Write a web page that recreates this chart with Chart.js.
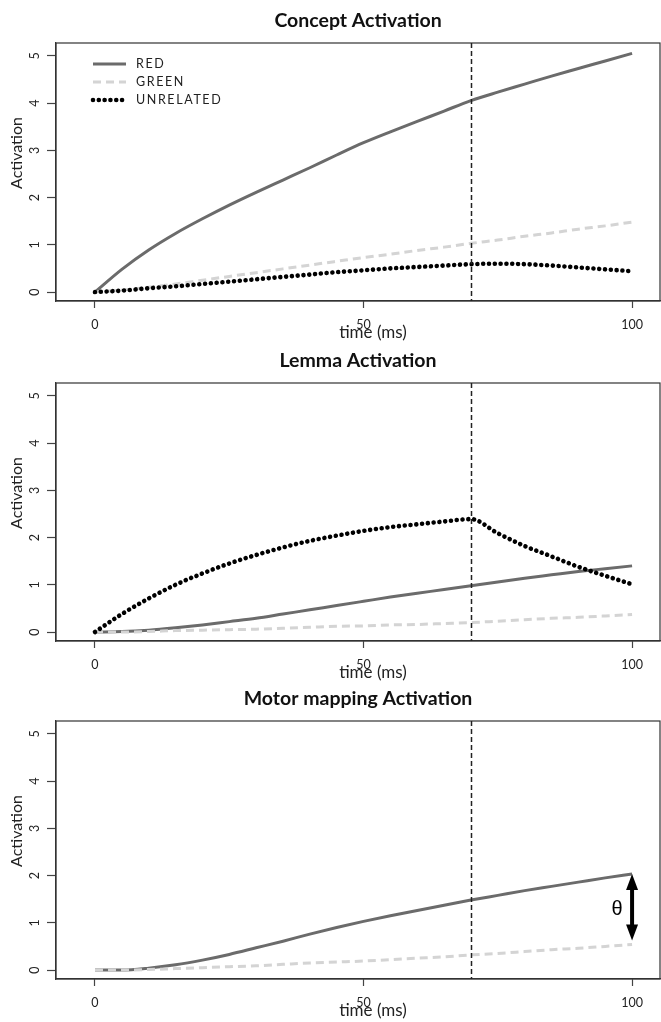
<!DOCTYPE html>
<html>
<head>
<meta charset="utf-8">
<script src="https://cdn.jsdelivr.net/npm/chart.js@4.4.1/dist/chart.umd.min.js"></script>
<style>
  html, body { margin: 0; padding: 0; background: #fff; }
  .panel { position: absolute; left: 0; width: 661px; height: 344px; }
  canvas { display: block; }
</style>
</head>
<body>
<div class="panel" style="top:0px"><canvas id="concept" width="661" height="344"></canvas></div>
<div class="panel" style="top:340px"><canvas id="lemma" width="661" height="344"></canvas></div>
<div class="panel" style="top:678px"><canvas id="motor" width="661" height="344"></canvas></div>
<script>
// time axis (ms) and tick labels
const timeMs = [0, 5, 10, 15, 20, 25, 30, 35, 40, 45, 50, 55, 60, 65, 70, 75, 80, 85, 90, 95, 100];
const xTicks = [0, 50, 100];
const yTicks = [0, 1, 2, 3, 4, 5];
const switchTime = 70;

// Concept Activation
const conceptRed = [0, 0.48, 0.89, 1.24, 1.55, 1.84, 2.11, 2.37, 2.63, 2.90, 3.16, 3.39, 3.61, 3.83, 4.05, 4.23, 4.40, 4.57, 4.73, 4.89, 5.05];
const conceptGreen = [0, 0.04, 0.10, 0.17, 0.25, 0.33, 0.41, 0.49, 0.57, 0.65, 0.73, 0.80, 0.88, 0.95, 1.03, 1.10, 1.18, 1.25, 1.33, 1.40, 1.48];
const conceptUnrelated = [0, 0.03, 0.08, 0.12, 0.17, 0.22, 0.27, 0.32, 0.37, 0.42, 0.46, 0.50, 0.53, 0.56, 0.59, 0.60, 0.59, 0.56, 0.52, 0.48, 0.44];

// Lemma Activation
const lemmaRed = [0, 0.01, 0.04, 0.09, 0.15, 0.22, 0.29, 0.38, 0.47, 0.56, 0.65, 0.74, 0.82, 0.90, 0.98, 1.06, 1.14, 1.21, 1.28, 1.34, 1.40];
const lemmaGreen = [0, 0.00, 0.01, 0.03, 0.04, 0.05, 0.06, 0.08, 0.10, 0.12, 0.13, 0.15, 0.16, 0.18, 0.20, 0.23, 0.26, 0.29, 0.31, 0.34, 0.37];
const lemmaUnrelated = [0, 0.38, 0.71, 1.00, 1.24, 1.45, 1.63, 1.79, 1.93, 2.04, 2.14, 2.22, 2.28, 2.34, 2.39, 2.09, 1.82, 1.60, 1.38, 1.19, 1.01];

// Motor mapping Activation
const motorRed = [0, 0.00, 0.04, 0.11, 0.21, 0.33, 0.47, 0.61, 0.76, 0.90, 1.03, 1.15, 1.26, 1.37, 1.48, 1.58, 1.68, 1.77, 1.86, 1.95, 2.03];
const motorGreen = [0, 0.00, 0.01, 0.03, 0.05, 0.07, 0.09, 0.12, 0.15, 0.17, 0.19, 0.22, 0.25, 0.28, 0.32, 0.35, 0.39, 0.43, 0.46, 0.50, 0.54];

const lineStyles = {
  RED: { borderColor: '#6b6b6b', borderWidth: 3, borderDash: [], borderCapStyle: 'butt', order: 3 },
  GREEN: { borderColor: '#d4d4d4', borderWidth: 3, borderDash: [8, 5], borderCapStyle: 'butt', order: 2 },
  UNRELATED: { borderColor: '#000000', borderWidth: 4.6, borderDash: [0.01, 5.8], borderCapStyle: 'round', order: 1 },
};

Chart.defaults.font.family = 'Lato, sans-serif';
Chart.defaults.color = '#222';

function toPoints(values) {
  return timeMs.map((t, i) => ({ x: t, y: values[i] }));
}

const decorPlugin = {
  id: 'decor',
  afterDatasetsDraw(chart, args, opts) {
    const { ctx, chartArea: a, scales: { x, y } } = chart;
    ctx.save();
    // box around the plot
    ctx.strokeStyle = '#333';
    ctx.lineWidth = 1.2;
    ctx.strokeRect(a.left, a.top, a.right - a.left, a.bottom - a.top);

    // dashed vertical marker
    const xs = Math.round(x.getPixelForValue(switchTime)) + 0.5;
    ctx.setLineDash([5, 3]);
    ctx.lineWidth = 1.5;
    ctx.strokeStyle = '#222';
    ctx.beginPath();
    ctx.moveTo(xs, a.top);
    ctx.lineTo(xs, a.bottom);
    ctx.stroke();
    ctx.setLineDash([]);

    // axis titles
    ctx.fillStyle = '#222';
    ctx.font = '16px Lato, sans-serif';
    ctx.textAlign = 'center';
    ctx.textBaseline = 'middle';
    ctx.save();
    ctx.translate(17, (a.top + a.bottom) / 2 - 19);
    ctx.rotate(-Math.PI / 2);
    ctx.fillText('Activation', 0, 0);
    ctx.restore();
    ctx.font = '17px Lato, sans-serif';
    ctx.fillText('time (ms)', (a.left + a.right) / 2 + 15, a.bottom + 32);

    if (opts.legend) {
      chart.data.datasets.forEach((ds, i) => {
        const ly = a.top + 21 + 18 * i;
        ctx.strokeStyle = ds.borderColor;
        ctx.lineWidth = ds.borderWidth;
        ctx.lineCap = ds.borderCapStyle;
        ctx.setLineDash(ds.borderDash);
        ctx.beginPath();
        ctx.moveTo(a.left + 37, ly);
        ctx.lineTo(a.left + 70, ly);
        ctx.stroke();
        ctx.setLineDash([]);
        ctx.lineCap = 'butt';
        ctx.fillStyle = '#222';
        ctx.font = '12.5px Lato, sans-serif';
        ctx.letterSpacing = '1.6px';
        ctx.textAlign = 'left';
        ctx.fillText(ds.label, a.left + 80, ly);
        ctx.letterSpacing = '0px';
      });
    }

    if (opts.arrow) {
      const xa = x.getPixelForValue(timeMs[timeMs.length - 1]);
      const yTop = y.getPixelForValue(motorRed[motorRed.length - 1]);
      const yBot = y.getPixelForValue(motorGreen[motorGreen.length - 1]) - 4;
      const head = 16, half = 6;
      ctx.fillStyle = '#000';
      ctx.strokeStyle = '#000';
      ctx.lineWidth = 4;
      ctx.beginPath();
      ctx.moveTo(xa, yTop + head - 2);
      ctx.lineTo(xa, yBot - head + 2);
      ctx.stroke();
      ctx.beginPath();
      ctx.moveTo(xa, yTop);
      ctx.lineTo(xa - half, yTop + head);
      ctx.lineTo(xa + half, yTop + head);
      ctx.closePath();
      ctx.fill();
      ctx.beginPath();
      ctx.moveTo(xa, yBot);
      ctx.lineTo(xa - half, yBot - head);
      ctx.lineTo(xa + half, yBot - head);
      ctx.closePath();
      ctx.fill();
      ctx.font = '20px "Liberation Sans", sans-serif';
      ctx.textAlign = 'center';
      ctx.textBaseline = 'middle';
      ctx.fillText('θ', xa - 15, (yTop + yBot) / 2 + 2);
    }
    ctx.restore();
  },
};

function makeChart(id, title, series, extra) {
  const context = document.getElementById(id).getContext('2d');
  return new Chart(context, {
    type: 'line',
    data: {
      datasets: series.map(([label, values]) => ({
        label: label,
        data: toPoints(values),
        ...lineStyles[label],
        pointRadius: 0,
        fill: false,
        cubicInterpolationMode: 'monotone',
      })),
    },
    options: {
      responsive: false,
      animation: false,
      devicePixelRatio: 1,
      layout: { padding: { top: 0, left: 0, right: 1, bottom: 3 } },
      scales: {
        x: {
          type: 'linear',
          min: -7.26,
          max: 105.2,
          afterBuildTicks: (scale) => { scale.ticks = xTicks.map((v) => ({ value: v })); },
          afterFit: (scale) => { scale.height = 40; },
          grid: { drawOnChartArea: false, tickLength: 7, tickColor: '#444', tickWidth: 1.2 },
          border: { display: true, color: '#333', width: 1.2 },
          ticks: { padding: 9, font: { size: 12.5 }, color: '#222', maxRotation: 0 },
        },
        y: {
          type: 'linear',
          min: -0.19,
          max: 5.27,
          afterBuildTicks: (scale) => { scale.ticks = yTicks.map((v) => ({ value: v })); },
          afterFit: (scale) => { scale.width = 56; },
          grid: { drawOnChartArea: false, tickLength: 9, tickColor: '#444', tickWidth: 1.2 },
          border: { display: true, color: '#333', width: 1.2 },
          ticks: { padding: 8, font: { size: 12.5 }, color: '#222', minRotation: 90, maxRotation: 90, crossAlign: 'center' },
        },
      },
      plugins: {
        legend: { display: false },
        tooltip: { enabled: false },
        title: {
          display: true,
          text: title,
          fullSize: false,
          color: '#111',
          font: { family: 'Lato, sans-serif', size: 19.5, weight: 'bold' },
          padding: { top: 9, bottom: 10.6 },
        },
        decor: extra,
      },
    },
    plugins: [decorPlugin],
  });
}

makeChart('concept', 'Concept Activation',
  [['RED', conceptRed], ['GREEN', conceptGreen], ['UNRELATED', conceptUnrelated]],
  { legend: true, arrow: false });
makeChart('lemma', 'Lemma Activation',
  [['RED', lemmaRed], ['GREEN', lemmaGreen], ['UNRELATED', lemmaUnrelated]],
  { legend: false, arrow: false });
makeChart('motor', 'Motor mapping Activation',
  [['RED', motorRed], ['GREEN', motorGreen]],
  { legend: false, arrow: true });
</script>
</body>
</html>
